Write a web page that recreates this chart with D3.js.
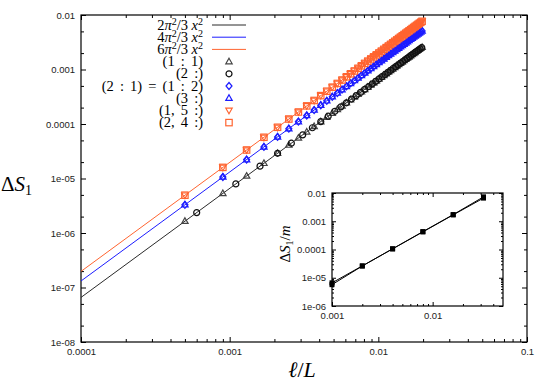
<!DOCTYPE html>
<html><head><meta charset="utf-8">
<script src="https://cdn.jsdelivr.net/npm/d3@7"></script>
<style>
body{margin:0;background:#fff;}
svg{display:block;}
.tk text{font-family:"Liberation Sans",Arial,sans-serif;font-size:9.5px;fill:#222;}
.tk line{stroke:#000;stroke-width:1;}
.tex{font-family:"Liberation Serif","Times New Roman",serif;fill:#000;}
</style></head>
<body>
<svg id="c" width="545" height="382"></svg>
<script>
// ---------- data ----------
const xTickVals = [0.0001, 0.001, 0.01, 0.1];
const xTickLabels = ["0.0001", "0.001", "0.01", "0.1"];
const yTickVals = [1e-8, 1e-7, 1e-6, 1e-5, 1e-4, 1e-3, 1e-2];
const yTickLabels = ["1e-08", "1e-07", "1e-06", "1e-05", "0.0001", "0.001", "0.01"];

// theoretical lines (straight on log-log): end points
const lineX = [0.0001, 0.0198];
const line2 = [6.58e-8, 2.579e-3];   // 2π²/3 x²
const line4 = [1.316e-7, 5.158e-3];  // 4π²/3 x²
const line6 = [1.974e-7, 7.737e-3];  // 6π²/3 x²

// marker x positions
const xA = [0.0005,0.0009,0.0013,0.0017,0.0021,0.0025,0.0029,0.0033,0.0037,0.0041,0.0045,0.0049,0.0053,0.0057,0.0061,0.0065,0.0069,0.0073,0.0077,0.0081,0.0085,0.0089,0.0093,0.0097,0.0101,0.0105,0.0109,0.0113,0.0117,0.0121,0.0125,0.0129,0.0133,0.0137,0.0141,0.0145,0.0149,0.0153,0.0157,0.0161,0.0165,0.0169,0.0173,0.0177,0.0181,0.0185,0.0189,0.0193,0.0197];
const xB = [0.0006,0.0011,0.0016,0.0021,0.0026,0.0031,0.0036,0.0041,0.0046,0.0051,0.0056,0.0061,0.0066,0.0071,0.0076,0.0081,0.0086,0.0091,0.0096,0.0101,0.0106,0.0111,0.0116,0.0121,0.0126,0.0131,0.0136,0.0141,0.0146,0.0151,0.0156,0.0161,0.0166,0.0171,0.0176,0.0181,0.0186,0.0191,0.0196];

// values in units of 1e-6
const s11 = [1.645,5.33,11.12,19.02,29.02,41.12,55.34,71.65,90.08,110.6,133.2,158.0,184.8,213.8,244.8,278.0,313.3,350.6,390.1,431.7,475.4,521.2,569.1,619.1,671.2,725.4,781.7,840.2,900.7,963.3,1028,1095,1164,1235,1308,1383,1461,1540,1622,1706,1791,1879,1969,2061,2156,2252,2350,2451,2554];
const s2 = [2.369,7.96,16.84,29.02,44.48,63.23,85.28,110.6,139.2,171.1,206.3,244.8,286.6,331.7,380.1,431.7,486.7,544.9,606.4,671.2,739.3,810.7,885.4,963.3,1045,1129,1217,1308,1403,1500,1601,1706,1813,1924,2038,2156,2276,2400,2528];
const s21 = [3.29,10.66,22.24,38.04,58.04,82.24,110.7,143.3,180.2,221.2,266.4,316.0,369.6,427.6,489.6,556.0,626.6,701.2,780.2,863.4,950.8,1042,1138,1238,1342,1451,1563,1680,1801,1927,2056,2190,2328,2470,2616,2766,2922,3080,3244,3412,3582,3758,3938,4122,4312,4504,4700,4902,5108];
const s3 = [3.29,10.66,22.24,38.04,58.04,82.24,110.7,143.3,180.2,221.2,266.4,316.0,369.6,427.6,489.6,556.0,626.6,701.2,780.2,863.4,950.8,1042,1138,1238,1342,1451,1563,1680,1801,1927,2056,2190,2328,2470,2616,2766,2922,3080,3244,3412,3582,3758,3938,4122,4312,4504,4700,4902,5108];
const s15 = [4.94,15.99,33.36,57.06,87.06,123.4,166.0,215.0,270.2,331.8,399.6,474.0,554.4,641.4,734.4,834.0,939.9,1052,1170,1295,1426,1564,1707,1857,2014,2176,2345,2521,2702,2890,3084,3285,3492,3705,3924,4149,4383,4620,4866,5118,5373,5637,5907,6183,6468,6756,7050,7353,7662];
const s24 = [4.94,15.99,33.36,57.06,87.06,123.4,166.0,215.0,270.2,331.8,399.6,474.0,554.4,641.4,734.4,834.0,939.9,1052,1170,1295,1426,1564,1707,1857,2014,2176,2345,2521,2702,2890,3084,3285,3492,3705,3924,4149,4383,4620,4866,5118,5373,5637,5907,6183,6468,6756,7050,7353,7662];
const MICRO = 1e-6;

// inset
const insetX = [0.001, 0.002, 0.004, 0.008, 0.016, 0.032];
const insetA = [6.6e-6, 2.63e-5, 1.05e-4, 4.2e-4, 1.68e-3, 6.6e-3];
const insetB = [5.7e-6, 2.6e-5, 1.06e-4, 4.3e-4, 1.72e-3, 7.3e-3];
const insetXTicks = [0.001, 0.01];
const insetXLabels = ["0.001", "0.01"];
const insetYTicks = [1e-6, 1e-5, 1e-4, 1e-3, 1e-2];
const insetYLabels = ["1e-06", "1e-05", "0.0001", "0.001", "0.01"];

const colBlack = "#2a2a2a", colBlue = "#1c1cff", colOrange = "#ff6430";

// ---------- drawing ----------
const svg = d3.select("#c");
const L = 81, R = 527, T = 15, B = 342;
const x = d3.scaleLog().domain([1e-4, 0.1]).range([L, R]);
const y = d3.scaleLog().domain([1e-8, 0.01]).range([B, T]);

function minors(lo, hi, mults){
  const out = [];
  for (let e = Math.round(Math.log10(lo)); e < Math.round(Math.log10(hi)); e++)
    for (const m of mults) out.push(m * Math.pow(10, e));
  return out;
}
const fmtFrom = (vals, labs) => d => labs[vals.findIndex(v => Math.abs(v - d) / d < 1e-6)];

function drawAxes(g, xs, ys, xv, xl, yv, yl, xMinor, yMinor, majLen, minLen){
  const [l, r] = xs.range(), [b, t] = ys.range();
  g.append("g").attr("class","tk").attr("transform",`translate(0,${b})`)
    .call(d3.axisBottom(xs).tickValues(xv).tickSize(-majLen).tickPadding(6).tickFormat(fmtFrom(xv, xl))).select(".domain").remove();
  g.append("g").attr("class","tk").attr("transform",`translate(0,${b})`)
    .call(d3.axisBottom(xs).tickValues(xMinor).tickSize(-minLen).tickFormat("")).select(".domain").remove();
  g.append("g").attr("class","tk").attr("transform",`translate(0,${t})`)
    .call(d3.axisTop(xs).tickValues(xv).tickSize(-majLen).tickFormat("")).select(".domain").remove();
  g.append("g").attr("class","tk").attr("transform",`translate(0,${t})`)
    .call(d3.axisTop(xs).tickValues(xMinor).tickSize(-minLen).tickFormat("")).select(".domain").remove();
  g.append("g").attr("class","tk").attr("transform",`translate(${l},0)`)
    .call(d3.axisLeft(ys).tickValues(yv).tickSize(-majLen).tickPadding(6).tickFormat(fmtFrom(yv, yl))).select(".domain").remove();
  g.append("g").attr("class","tk").attr("transform",`translate(${l},0)`)
    .call(d3.axisLeft(ys).tickValues(yMinor).tickSize(-minLen).tickFormat("")).select(".domain").remove();
  g.append("g").attr("class","tk").attr("transform",`translate(${r},0)`)
    .call(d3.axisRight(ys).tickValues(yv).tickSize(-majLen).tickFormat("")).select(".domain").remove();
  g.append("g").attr("class","tk").attr("transform",`translate(${r},0)`)
    .call(d3.axisRight(ys).tickValues(yMinor).tickSize(-minLen).tickFormat("")).select(".domain").remove();
  g.append("rect").attr("x", l).attr("y", t).attr("width", r - l).attr("height", b - t)
    .attr("fill","none").attr("stroke","#000").attr("stroke-width",1.2);
}

const main = svg.append("g");
drawAxes(main, x, y, xTickVals, xTickLabels, yTickVals, yTickLabels,
  minors(1e-4, 0.1, [2,3,4,5,6,7,8,9]), minors(1e-8, 0.01, [2,5]), 5, 3);

// theory lines
const lineGen = d3.line().x(d => x(d[0])).y(d => y(d[1]));
[[line2, colBlack],[line4, colBlue],[line6, colOrange]].forEach(([ys, c]) => {
  main.append("path").datum(lineX.map((v,i)=>[v, ys[i]])).attr("d", lineGen)
    .attr("fill","none").attr("stroke", c).attr("stroke-width", 1);
});

// marker shapes
function marker(g, type, color, cx, cy){
  const s = g.append("g").attr("transform", `translate(${cx},${cy})`);
  const common = el => el.attr("fill","none").attr("stroke", color).attr("stroke-width", 1.2);
  if (type === "tri") common(s.append("path").attr("d", "M0,-3.4L3.2,2.2L-3.2,2.2Z"));
  if (type === "tridown") common(s.append("path").attr("d", "M0,3.4L3.2,-2.2L-3.2,-2.2Z"));
  if (type === "circle") common(s.append("circle").attr("r", 3));
  if (type === "diamond") common(s.append("path").attr("d", "M0,-3.5L3,0L0,3.5L-3,0Z"));
  if (type === "square") common(s.append("rect").attr("x",-3.2).attr("y",-3.2).attr("width",6.4).attr("height",6.4));
}

const series = [
  {label:"(1 : 1)", xs:xA, ys:s11, type:"tri", color:"#444"},
  {label:"(2 :)", xs:xB, ys:s2, type:"circle", color:"#111"},
  {label:"(2 : 1) = (1 : 2)", xs:xA, ys:s21, type:"diamond", color:colBlue},
  {label:"(3 :)", xs:xA, ys:s3, type:"tri", color:colBlue},
  {label:"(1, 5 :)", xs:xA, ys:s15, type:"tridown", color:colOrange},
  {label:"(2, 4 :)", xs:xA, ys:s24, type:"square", color:colOrange},
];
series.forEach(s => {
  const g = main.append("g");
  s.xs.forEach((xv, i) => marker(g, s.type, s.color, x(xv), y(s.ys[i] * MICRO)));
});

// legend
const legTextX = 203, legRow0 = 25, legStep = 12.2;
const lg = svg.append("g");
const lineLabels = [["2","π","2","/3 ","x","2", colBlack],["4","π","2","/3 ","x","2", colBlue],["6","π","2","/3 ","x","2", colOrange]];
lineLabels.forEach((p, i) => {
  const cy = legRow0 + i * legStep;
  const t = lg.append("text").attr("class","tex").attr("x", legTextX).attr("y", cy + 4.5)
    .attr("text-anchor","end").attr("font-size", 14.5);
  t.append("tspan").text(p[0]);
  t.append("tspan").attr("font-style","italic").text(p[1]);
  t.append("tspan").attr("dy",-5).attr("font-size",10).text(p[2]);
  t.append("tspan").attr("dy",5).text(p[3]);
  t.append("tspan").attr("font-style","italic").text(p[4]);
  t.append("tspan").attr("dy",-5).attr("font-size",10).text(p[5]);
  lg.append("line").attr("x1", 212).attr("x2", 246).attr("y1", cy).attr("y2", cy)
    .attr("stroke", p[6]).attr("stroke-width", 1);
});
series.forEach((s, i) => {
  const cy = legRow0 + (i + 3) * legStep;
  lg.append("text").attr("class","tex").attr("x", legTextX).attr("y", cy + 4.5)
    .attr("text-anchor","end").attr("font-size", 14.5).attr("word-spacing", 2.5).text(s.label);
  marker(lg, s.type, s.color, 229, cy);
});

// axis labels
const yl = svg.append("text").attr("class","tex").attr("x", 1).attr("y", 191)
  .attr("text-anchor","start").attr("font-size", 21);
yl.append("tspan").text("Δ");
yl.append("tspan").attr("font-style","italic").text("S");
yl.append("tspan").attr("dy", 4).attr("font-size", 14).text("1");

const xlab = svg.append("text").attr("class","tex").attr("x", 302).attr("y", 377)
  .attr("text-anchor","middle").attr("font-size", 22);
xlab.append("tspan").attr("font-style","italic").text("ℓ");
xlab.append("tspan").text("/");
xlab.append("tspan").attr("font-style","italic").text("L");

// ---------- inset ----------
const IL = 332, IR = 503, IT = 193, IB = 306;
const ix = d3.scaleLog().domain([0.001, 0.05]).range([IL, IR]);
const iy = d3.scaleLog().domain([1e-6, 0.01]).range([IB, IT]);
const inset = svg.append("g");
inset.append("rect").attr("x", IL).attr("y", IT).attr("width", IR-IL).attr("height", IB-IT).attr("fill","#fff");
drawAxes(inset, ix, iy, insetXTicks, insetXLabels, insetYTicks, insetYLabels,
  minors(0.001, 0.1, [2,3,4,5,6,7,8,9]).filter(v => v < 0.05), minors(1e-6, 0.01, [2,3,4,5,6,7,8,9]), 4, 2);
const iline = d3.line().x(d => ix(d[0])).y(d => iy(d[1]));
[insetA, insetB].forEach(ys => {
  inset.append("path").datum(insetX.map((v,i)=>[v, ys[i]])).attr("d", iline)
    .attr("fill","none").attr("stroke","#000").attr("stroke-width",1);
  insetX.forEach((v,i) => inset.append("rect").attr("x", ix(v)-2.5).attr("y", iy(ys[i])-2.5)
    .attr("width",5).attr("height",5).attr("fill","#000"));
});
const il = svg.append("text").attr("class","tex").attr("font-size", 15)
  .attr("text-anchor","middle").attr("transform","translate(290,244) rotate(-90)");
il.append("tspan").text("Δ");
il.append("tspan").attr("font-style","italic").text("S");
il.append("tspan").attr("dy", 3).attr("font-size", 10).text("1");
il.append("tspan").attr("dy", -3).text("/");
il.append("tspan").attr("font-style","italic").text("m");
</script>
</body></html>
